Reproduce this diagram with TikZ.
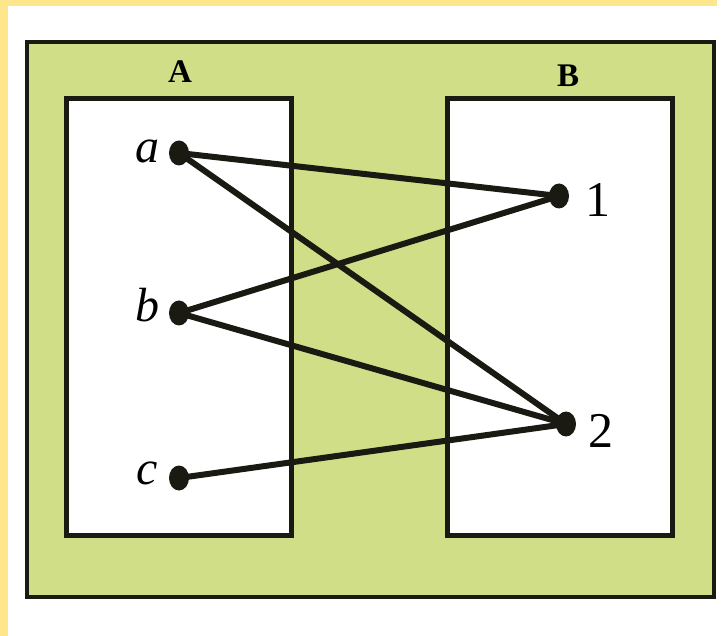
\documentclass[tikz,border=0pt]{standalone}
\usepackage{fontspec}
\setmainfont{Liberation Serif}
\usetikzlibrary{shapes.geometric}
\definecolor{framey}{RGB}{253,230,140}
\definecolor{panelg}{RGB}{208,223,135}
\definecolor{inkd}{RGB}{26,26,18}
\tikzset{
  setbox/.style={draw=inkd, line width=5pt, fill=white},
  vdot/.style={ellipse, fill=inkd, inner sep=0pt, minimum width=20pt, minimum height=25pt},
  elab/.style={font=\fontsize{48}{48}\selectfont\itshape, inner sep=0pt},
  nlab/.style={font=\fontsize{50}{50}\selectfont, inner sep=0pt},
  tlab/.style={font=\fontsize{33}{33}\selectfont\bfseries, inner sep=0pt},
  arrowline/.style={draw=inkd, line width=6pt, line cap=round}
}
\begin{document}
\begin{tikzpicture}[x=1pt, y=-1pt]
  \useasboundingbox (0,0) rectangle (726,636);
  % page background and yellow edges
  \fill[white] (0,0) rectangle (726,636);
  \fill[framey] (0,0) rectangle (717,6);
  \fill[framey] (0,0) rectangle (8,636);
  % green panel
  \filldraw[fill=panelg, draw=inkd, line width=4.5pt] (27,42) rectangle (714,597);
  % the two sets
  \draw[setbox] (66,99) rectangle (291,535);
  \draw[setbox] (447,99) rectangle (672,535);
  \node[tlab] (tA) at (180,72) {A};
  \node[tlab] (tB) at (568,76) {B};
  % elements
  \node[vdot] (a) at (179,153) {};
  \node[vdot] (b) at (179,313) {};
  \node[vdot] (c) at (179,478) {};
  \node[vdot] (one) at (559,196) {};
  \node[vdot] (two) at (566,424) {};
  \node[elab] (la) at (147,151) {a};
  \node[elab] (lb) at (147,305) {b};
  \node[elab] (lc) at (147,473) {c};
  \node[nlab] (l1) at (598,200) {1};
  \node[nlab] (l2) at (601,431) {2};
  % mapping
  \draw[arrowline] (a.center) -- (one.center);
  \draw[arrowline] (a.center) -- (two.center);
  \draw[arrowline] (b.center) -- (one.center);
  \draw[arrowline] (b.center) -- (two.center);
  \draw[arrowline] (c.center) -- (two.center);
\end{tikzpicture}
\end{document}
